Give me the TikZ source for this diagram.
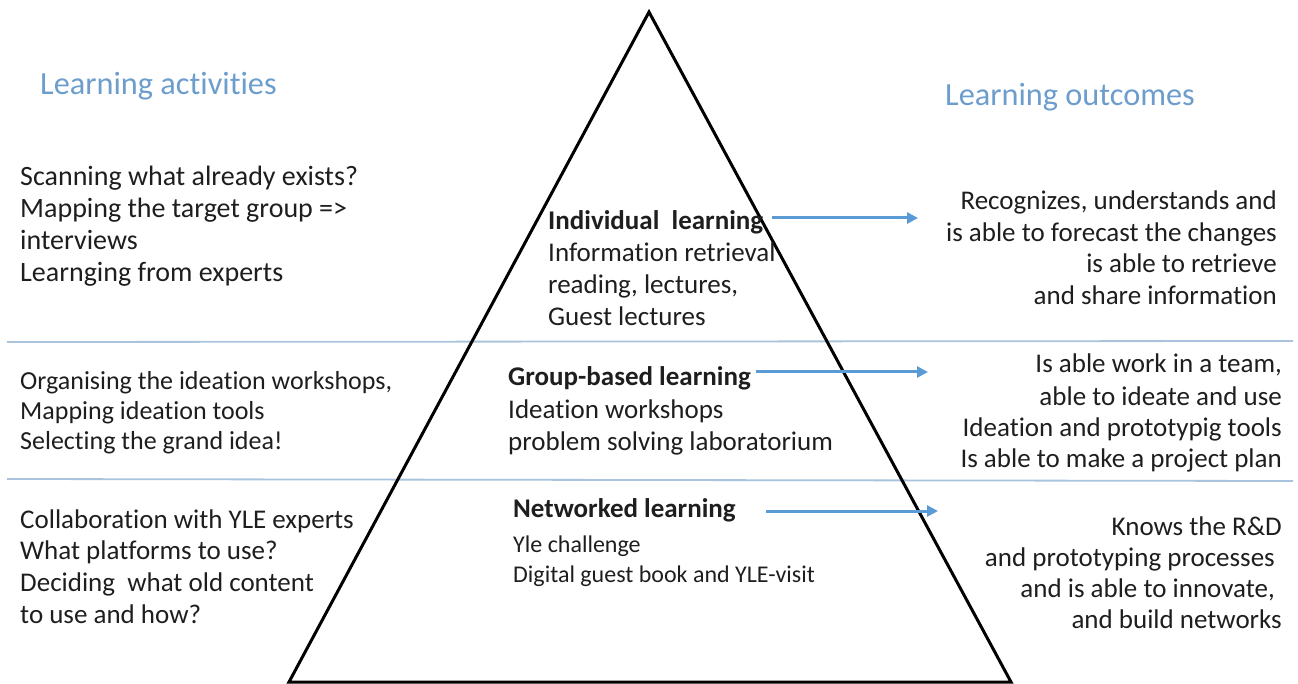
\documentclass[tikz,border=0pt]{standalone}
\usepackage{fontspec}
\setmainfont{Carlito}[Ligatures=NoCommon]
\usetikzlibrary{arrows.meta}
\definecolor{headblue}{HTML}{6C9DCD}
\definecolor{arrowblue}{HTML}{5B9BD5}
\definecolor{ruleblue}{HTML}{A9C3DD}
\definecolor{inkgrey}{HTML}{1E1E1E}
\begin{document}
\begin{tikzpicture}[x=1pt,y=-1pt,
  every node/.style={inner sep=0pt, text=inkgrey},
  body/.style={font=\fontsize{27}{32}\selectfont},
  bodyL/.style={font=\fontsize{28}{32}\selectfont},
  bodyS/.style={font=\fontsize{26}{32}\selectfont},
  small/.style={font=\fontsize{24}{30}\selectfont},
  heading/.style={font=\bfseries\fontsize{27}{32}\selectfont},
  title/.style={font=\fontsize{32.3}{38}\selectfont, text=headblue},
  rule/.style={draw=ruleblue, line width=1.8pt},
  pyramid/.style={draw=black, line width=3pt, line join=miter},
  flow/.style={draw=arrowblue, line width=3pt, -{Triangle[length=11pt,width=11pt]}}]
\useasboundingbox (0,0) rectangle (1298,684);

% band separators
\draw[rule] (7,342) -- (1293,341);
\draw[rule] (7,479) -- (1293,481);

% pyramid
\coordinate (apex) at (649,12);
\coordinate (baseR) at (1011,682);
\coordinate (baseL) at (289,682);
\draw[pyramid] (apex) -- (baseR) -- (baseL) -- cycle;

% column titles
\node[title, anchor=base west] (actTitle) at (40,95) {Learning activities};
\node[title, anchor=base west] (outTitle) at (945,106) {Learning outcomes};

% learning activities (left)
\foreach \t [count=\i] in {Scanning what already exists?, Mapping the target group =>, interviews, Learnging from experts}
  \node[bodyL, anchor=base west] (actA-\i) at (20,{186+32*(\i-1)}) {\t};
\foreach \t [count=\i] in {{Organising the ideation workshops,}, Mapping ideation tools, Selecting the grand idea!}
  \node[bodyS, anchor=base west] (actB-\i) at (20,{389+30*(\i-1)}) {\t};
\foreach \t [count=\i] in {Collaboration with YLE experts, What platforms to use?, Deciding\ \ what old content, to use and how?}
  \node[body, anchor=base west] (actC-\i) at (20,{528+31.7*(\i-1)}) {\t};

% pyramid levels
\node[heading, anchor=base west] (lvlA) at (548,230) {Individual\ \ learning};
\foreach \t [count=\i] in {Information retrieval, {reading, lectures,}, Guest lectures}
  \node[body, anchor=base west] (lvlA-\i) at (548,{230+32*\i}) {\t};
\node[heading, anchor=base west] (lvlB) at (508,385) {Group-based learning};
\foreach \t [count=\i] in {Ideation workshops, problem solving laboratorium}
  \node[body, anchor=base west] (lvlB-\i) at (508,{386+32*\i}) {\t};
\node[heading, anchor=base west] (lvlC) at (513,517) {Networked learning};
\node[small, anchor=base west] (lvlC-1) at (513,552) {Yle challenge};
\node[small, anchor=base west] (lvlC-2) at (513,582) {Digital guest book and YLE-visit};

% learning outcomes (right)
\foreach \t/\xr/\yb [count=\i] in {{Recognizes, understands and}/1277/210, is able to forecast the changes/1277/242, is able to retrieve/1277/273, and share information/1277/305}
  \node[body, anchor=base east] (outA-\i) at (\xr,\yb) {\t};
\foreach \t/\xr/\yb [count=\i] in {{Is able work in a team,}/1282/373, able to ideate and use/1282/405, Ideation and prototypig tools/1282/436, Is able to make a project plan/1282/467}
  \node[body, anchor=base east] (outB-\i) at (\xr,\yb) {\t};
\foreach \t/\xr/\yb [count=\i] in {Knows the R\&D/1282/535, and prototyping processes/1275/566, {and is able to innovate,}/1275/597, and build networks/1282/628}
  \node[body, anchor=base east] (outC-\i) at (\xr,\yb) {\t};

% level-to-outcome arrows
\coordinate (fA0) at (772,218); \coordinate (fA1) at (918,218);
\coordinate (fB0) at (756,372); \coordinate (fB1) at (928,372);
\coordinate (fC0) at (766,511); \coordinate (fC1) at (938,511);
\draw[flow] (fA0) -- (fA1);
\draw[flow] (fB0) -- (fB1);
\draw[flow] (fC0) -- (fC1);
\end{tikzpicture}
\end{document}
